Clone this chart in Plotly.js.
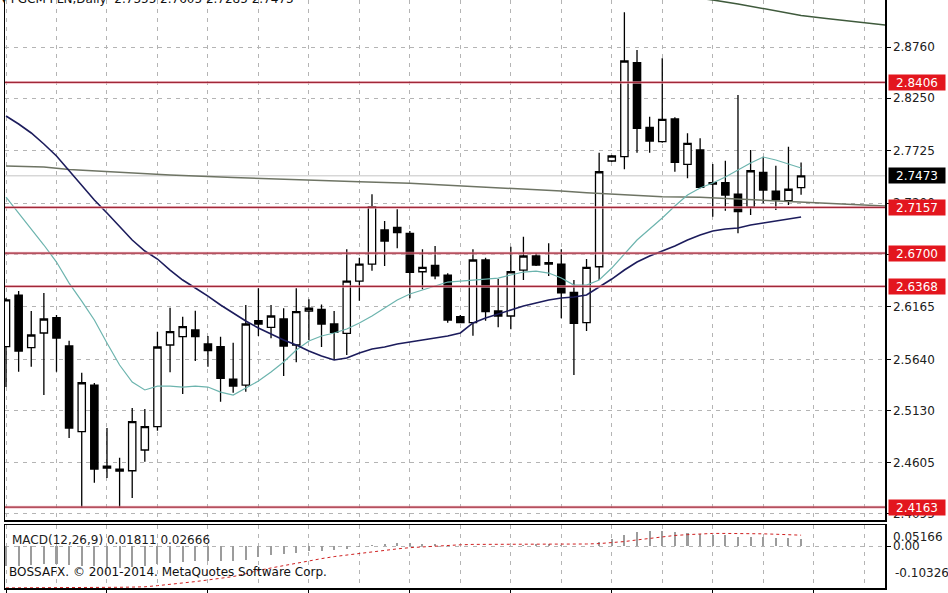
<!DOCTYPE html>
<html>
<head>
<meta charset="utf-8">
<script src="https://cdn.plot.ly/plotly-3.0.1.min.js"></script>
<style>
html,body{margin:0;padding:0;background:#ffffff;}
#chart{width:948px;height:593px;}
</style>
</head>
<body>
<div id="chart"></div>
<script>
// ---------- data ----------
const titleText = "\u25BE FGCM PLN,Daily  2.7355 2.7605 2.7285 2.7473";

const openP = [2.5766, 2.6282, 2.5756, 2.5903, 2.6056, 2.5773, 2.4917, 2.5383, 2.4574, 2.4544,
  2.4527, 2.4734, 2.4967, 2.5783, 2.5866, 2.5933, 2.5793, 2.5766, 2.5443, 2.5383,
  2.6026, 2.5960, 2.6043, 2.5783, 2.6123, 2.6138, 2.5993, 2.5900, 2.6422, 2.6592,
  2.6932, 2.6959, 2.6899, 2.6515, 2.6579, 2.6482, 2.6066, 2.6006, 2.6632, 2.6123,
  2.6073, 2.6532, 2.6672, 2.6607, 2.6592, 2.6309, 2.6006, 2.6565, 2.7621, 2.7664,
  2.8603, 2.7958, 2.7814, 2.8041, 2.7588, 2.7731, 2.7406, 2.7404, 2.7291, 2.7159,
  2.7508, 2.7321, 2.7225, 2.7355];
const highP = [2.6252, 2.6322, 2.6123, 2.6302, 2.6083, 2.5826, 2.5506, 2.5403, 2.4954, 2.4657,
  2.5154, 2.5144, 2.5916, 2.6156, 2.6066, 2.6126, 2.5873, 2.5866, 2.5806, 2.6183,
  2.6349, 2.6183, 2.6150, 2.6349, 2.6240, 2.6188, 2.6123, 2.6739, 2.6655, 2.7288,
  2.7022, 2.7139, 2.6922, 2.6739, 2.6772, 2.6499, 2.6083, 2.6739, 2.6655, 2.6442,
  2.6765, 2.6865, 2.6699, 2.6799, 2.6739, 2.6432, 2.6642, 2.7704, 2.7681, 2.9107,
  2.8730, 2.8064, 2.8647, 2.8058, 2.7898, 2.7848, 2.7591, 2.7624, 2.8280, 2.7731,
  2.7664, 2.7574, 2.7764, 2.7605];
const lowP = [2.5363, 2.5516, 2.5566, 2.5283, 2.5516, 2.4854, 2.4160, 2.4407, 2.4454, 2.4160,
  2.4254, 2.4617, 2.4927, 2.5510, 2.5293, 2.5623, 2.5566, 2.5217, 2.5306, 2.5316,
  2.5873, 2.5850, 2.5473, 2.5610, 2.5833, 2.5763, 2.5633, 2.5683, 2.6226, 2.6525,
  2.6572, 2.6749, 2.6249, 2.6339, 2.6439, 2.6006, 2.6000, 2.5876, 2.6026, 2.5960,
  2.5940, 2.6432, 2.6572, 2.6472, 2.6050, 2.5483, 2.5923, 2.6432, 2.7611, 2.7538,
  2.7704, 2.7704, 2.7804, 2.7514, 2.7448, 2.7348, 2.7065, 2.7125, 2.6899, 2.7082,
  2.7199, 2.7132, 2.7182, 2.7285];
const closeP = [2.6233, 2.5723, 2.5883, 2.6043, 2.5853, 2.4954, 2.5406, 2.4544, 2.4554, 2.4524,
  2.5017, 2.4967, 2.5763, 2.5916, 2.5966, 2.5866, 2.5726, 2.5450, 2.5373, 2.5993,
  2.5993, 2.6073, 2.5773, 2.6116, 2.6150, 2.5993, 2.5910, 2.6422, 2.6592, 2.7165,
  2.6822, 2.6905, 2.6509, 2.6559, 2.6475, 2.6033, 2.6006, 2.6632, 2.6116, 2.6073,
  2.6515, 2.6672, 2.6582, 2.6592, 2.6305, 2.6000, 2.6559, 2.7514, 2.7671, 2.8620,
  2.7948, 2.7821, 2.8038, 2.7608, 2.7798, 2.7358, 2.7391, 2.7281, 2.7115, 2.7524,
  2.7331, 2.7232, 2.7339, 2.7473];

// slow moving average (navy)
const maSlow = [2.8071, 2.7991, 2.7901, 2.7791, 2.7671, 2.7521, 2.7371, 2.7232, 2.7102, 2.6972,
  2.6832, 2.6722, 2.6642, 2.6532, 2.6432, 2.6352, 2.6272, 2.6183, 2.6103, 2.6023,
  2.5953, 2.5893, 2.5833, 2.5783, 2.5723, 2.5673, 2.5633, 2.5653, 2.5703, 2.5743,
  2.5763, 2.5793, 2.5813, 2.5833, 2.5853, 2.5873, 2.5903, 2.6003, 2.6053, 2.6093,
  2.6133, 2.6173, 2.6203, 2.6233, 2.6253, 2.6263, 2.6283, 2.6362, 2.6442, 2.6532,
  2.6612, 2.6672, 2.6722, 2.6772, 2.6832, 2.6882, 2.6922, 2.6942, 2.6952, 2.6982,
  2.7002, 2.7022, 2.7042, 2.7062];
// fast moving average (teal)
const maFast = [2.7261, 2.7102, 2.6942, 2.6782, 2.6612, 2.6402, 2.6222, 2.6033, 2.5803, 2.5583,
  2.5413, 2.5334, 2.5373, 2.5373, 2.5363, 2.5373, 2.5363, 2.5313, 2.5283, 2.5353,
  2.5423, 2.5513, 2.5613, 2.5733, 2.5823, 2.5873, 2.5903, 2.5943, 2.6003, 2.6073,
  2.6153, 2.6233, 2.6293, 2.6332, 2.6372, 2.6412, 2.6422, 2.6432, 2.6442, 2.6452,
  2.6482, 2.6512, 2.6522, 2.6502, 2.6452, 2.6382, 2.6382, 2.6432, 2.6552, 2.6692,
  2.6832, 2.6942, 2.7052, 2.7172, 2.7282, 2.7351, 2.7401, 2.7461, 2.7531, 2.7601,
  2.7661, 2.7631, 2.7591, 2.7551];
// long shifted average (olive) - bar index / value
const maLongIdx = [0, 3, 5, 7, 10, 13, 18, 23, 28, 32, 36, 40, 44, 46, 50, 52, 55, 59, 63, 66, 69, 69.7];
const maLongVal = [2.7571, 2.7561, 2.7536, 2.7521, 2.7504, 2.7481, 2.7456, 2.7431, 2.7413, 2.7398,
  2.7374, 2.7351, 2.7321, 2.7304, 2.7276, 2.7265, 2.7259, 2.7237, 2.7212, 2.7194, 2.7175, 2.7172];
// upper dark green line
const upperIdx = [54, 56, 58, 60, 62, 63, 65, 67, 69.7];
const upperVal = [2.9260, 2.9230, 2.9190, 2.9145, 2.9100, 2.9075, 2.9045, 2.9020, 2.8980];

// horizontal support / resistance levels
const levels = [2.8406, 2.7157, 2.6700, 2.6368, 2.4163];
const lastPrice = 2.7473;

// price-axis ticks
const priceTicks = [2.8760, 2.8250, 2.7725, 2.7200, 2.6690, 2.6165, 2.5640, 2.5130, 2.4605, 2.4095];

// MACD(12,26,9)
const macdMain = [-0.050, -0.048, -0.046, -0.045, -0.045, -0.047, -0.048, -0.050, -0.052, -0.053,
  -0.051, -0.049, -0.045, -0.042, -0.040, -0.038, -0.037, -0.038, -0.038, -0.034,
  -0.027, -0.022, -0.020, -0.016, -0.013, -0.012, -0.011, -0.007, -0.003, 0.003,
  0.006, 0.008, 0.007, 0.006, 0.005, 0.002, 0.000, 0.001, 0.000, -0.001,
  0.001, 0.003, 0.004, 0.004, 0.003, 0.000, 0.001, 0.010, 0.017, 0.028,
  0.034, 0.036, 0.037, 0.035, 0.033, 0.030, 0.028, 0.026, 0.023, 0.023,
  0.022, 0.020, 0.019, 0.01811];
const macdSignal = [-0.1030, -0.1030, -0.1029, -0.1028, -0.1027, -0.1026, -0.1024, -0.1022, -0.1019, -0.1015,
  -0.1010, -0.1003, -0.0975, -0.0945, -0.0912, -0.0875, -0.0835, -0.0795, -0.0752, -0.0680,
  -0.060, -0.054, -0.048, -0.042, -0.036, -0.031, -0.026, -0.022, -0.018, -0.014,
  -0.010, -0.007, -0.004, -0.002, 0.000, 0.002, 0.003, 0.004, 0.004, 0.004,
  0.004, 0.004, 0.004, 0.004, 0.005, 0.005, 0.005, 0.006, 0.008, 0.011,
  0.015, 0.019, 0.023, 0.026, 0.028, 0.030, 0.031, 0.031, 0.031, 0.030,
  0.030, 0.029, 0.028, 0.02666];
const macdMax = 0.05166, macdMin = -0.10326;
const macdLabel = "MACD(12,26,9) 0.01811 0.02666";
const copyright = "BOSSAFX. \u00A9 2001-2014. MetaQuotes Software Corp.";

// ---------- chart ----------
const idx = openP.map((_, i) => i);
const FONT = "DejaVu Sans, Verdana, sans-serif";
const GRID = '#b4b4b4';

const traces = [
  {
    type: 'candlestick', x: idx, open: openP, high: highP, low: lowP, close: closeP,
    xaxis: 'x', yaxis: 'y',
    increasing: {line: {color: '#000000', width: 1.3}, fillcolor: '#ffffff'},
    decreasing: {line: {color: '#000000', width: 1.3}, fillcolor: '#000000'},
    whiskerwidth: 0, hoverinfo: 'skip'
  },
  {type: 'scatter', mode: 'lines', x: maLongIdx, y: maLongVal, xaxis: 'x', yaxis: 'y',
    line: {color: '#6e7464', width: 1.5}, hoverinfo: 'skip'},
  {type: 'scatter', mode: 'lines', x: upperIdx, y: upperVal, xaxis: 'x', yaxis: 'y',
    line: {color: '#3f5a3c', width: 1.5}, hoverinfo: 'skip'},
  {type: 'scatter', mode: 'lines', x: idx, y: maFast, xaxis: 'x', yaxis: 'y',
    line: {color: '#6cb4ae', width: 1.2}, hoverinfo: 'skip'},
  {type: 'scatter', mode: 'lines', x: idx, y: maSlow, xaxis: 'x', yaxis: 'y',
    line: {color: '#1c1c5c', width: 1.6}, hoverinfo: 'skip'},
  {type: 'bar', x: idx, y: macdMain, xaxis: 'x2', yaxis: 'y2', width: 0.16,
    marker: {color: '#9c9c9c', line: {width: 0}}, hoverinfo: 'skip'},
  {type: 'scatter', mode: 'lines', x: idx, y: macdSignal, xaxis: 'x2', yaxis: 'y2',
    line: {color: '#d02020', width: 1, dash: '3px,3px'}, hoverinfo: 'skip'}
];

const shapes = [];
shapes.push({type: 'line', xref: 'paper', x0: 0, x1: 1, yref: 'y', y0: lastPrice, y1: lastPrice,
  line: {color: '#c4c4c4', width: 1}, layer: 'below'});
levels.forEach(v => {
  shapes.push({type: 'line', xref: 'paper', x0: 0, x1: 1, yref: 'y', y0: v, y1: v,
    line: {color: 'rgba(236,165,178,0.6)', width: 3}, layer: 'above'});
  shapes.push({type: 'line', xref: 'paper', x0: 0, x1: 1, yref: 'y', y0: v, y1: v,
    line: {color: '#a02838', width: 1.3}, layer: 'above'});
});

const annotations = [];
levels.forEach(v => {
  annotations.push({xref: 'paper', x: 1, xanchor: 'left', xshift: 3, yref: 'y', y: v, yanchor: 'middle',
    text: v.toFixed(4), showarrow: false, bgcolor: '#e3161e', borderpad: 1, width: 54, height: 13,
    font: {family: FONT, size: 12, color: '#ffffff'}});
});
annotations.push({xref: 'paper', x: 1, xanchor: 'left', xshift: 3, yref: 'y', y: lastPrice, yanchor: 'middle',
  text: lastPrice.toFixed(4), showarrow: false, bgcolor: '#000000', borderpad: 1, width: 54, height: 13,
  font: {family: FONT, size: 12, color: '#ffffff'}});
annotations.push({xref: 'paper', x: 1, xanchor: 'left', xshift: 6, yref: 'y2', y: macdMax, yanchor: 'top', yshift: -3,
  text: macdMax.toFixed(5), showarrow: false, font: {family: FONT, size: 12, color: '#202020'}});
annotations.push({xref: 'paper', x: 1, xanchor: 'left', xshift: 6, yref: 'y2', y: 0, yanchor: 'middle',
  text: '0.00', showarrow: false, font: {family: FONT, size: 12, color: '#202020'}});
annotations.push({xref: 'paper', x: 1, xanchor: 'left', xshift: 8, yref: 'y2', y: macdMin, yanchor: 'bottom', yshift: 6,
  text: macdMin.toFixed(5), showarrow: false, font: {family: FONT, size: 12, color: '#202020'}});
annotations.push({xref: 'paper', x: 0, xanchor: 'left', xshift: 5, yref: 'paper', y: 0.0816, yanchor: 'middle',
  text: macdLabel, showarrow: false, font: {family: FONT, size: 12, color: '#202020'}});
annotations.push({xref: 'paper', x: 0, xanchor: 'left', xshift: 2, yref: 'paper', y: 0.0272, yanchor: 'middle',
  text: copyright, showarrow: false, font: {family: FONT, size: 12, color: '#101010'}});
annotations.push({xref: 'paper', x: 0, xanchor: 'left', xshift: -6, yref: 'paper', y: 1, yanchor: 'middle', yshift: 1,
  text: titleText, showarrow: false, font: {family: FONT, size: 12, color: '#101010'}});

const layout = {
  width: 948, height: 593,
  margin: {l: 5, r: 63, t: 0, b: 5},
  paper_bgcolor: '#ffffff', plot_bgcolor: '#ffffff',
  showlegend: false, dragmode: false,
  boxgap: 0.42, boxgroupgap: 0, bargap: 0,
  font: {family: FONT, size: 12, color: '#202020'},
  xaxis: {
    domain: [0, 1], anchor: 'y', range: [-0.08, 69.65],
    showline: true, mirror: true, linecolor: '#000000', linewidth: 1.5,
    showticklabels: false, ticks: '', zeroline: false,
    showgrid: true, tick0: 0, dtick: 4, gridcolor: GRID, griddash: '4px,5px', gridwidth: 1,
    rangeslider: {visible: false}, fixedrange: true
  },
  xaxis2: {
    domain: [0, 1], anchor: 'y2', matches: 'x', range: [-0.08, 69.65],
    showline: true, mirror: true, linecolor: '#000000', linewidth: 1.5,
    showticklabels: false, ticks: 'outside', ticklen: 5, tickcolor: '#000000', zeroline: false,
    showgrid: true, tick0: 0, dtick: 8, gridcolor: GRID, griddash: '4px,5px', gridwidth: 1,
    minor: {tick0: 0, dtick: 4, showgrid: true, gridcolor: GRID, griddash: '4px,5px', gridwidth: 1, ticks: ''},
    fixedrange: true
  },
  yaxis: {
    domain: [0.1156, 1], anchor: 'x', side: 'right', range: [2.40347, 2.92295],
    tickvals: priceTicks, ticktext: priceTicks.map(v => v.toFixed(4)),
    ticks: 'outside', ticklen: 4, tickcolor: '#000000',
    tickfont: {family: FONT, size: 12, color: '#202020'},
    showline: true, mirror: true, linecolor: '#000000', linewidth: 1.5,
    showgrid: true, gridcolor: GRID, griddash: '4px,5px', gridwidth: 1, zeroline: false,
    fixedrange: true
  },
  yaxis2: {
    domain: [0, 0.1071], anchor: 'x2', side: 'right', range: [macdMin, macdMax],
    tickvals: [0], showticklabels: false, ticks: 'outside', ticklen: 4, tickcolor: '#000000',
    showline: true, mirror: true, linecolor: '#000000', linewidth: 1.5,
    showgrid: true, gridcolor: GRID, griddash: '4px,5px', gridwidth: 1, zeroline: false,
    fixedrange: true
  },
  shapes: shapes,
  annotations: annotations
};

Plotly.newPlot('chart', traces, layout, {staticPlot: true, displayModeBar: false});
</script>
</body>
</html>
